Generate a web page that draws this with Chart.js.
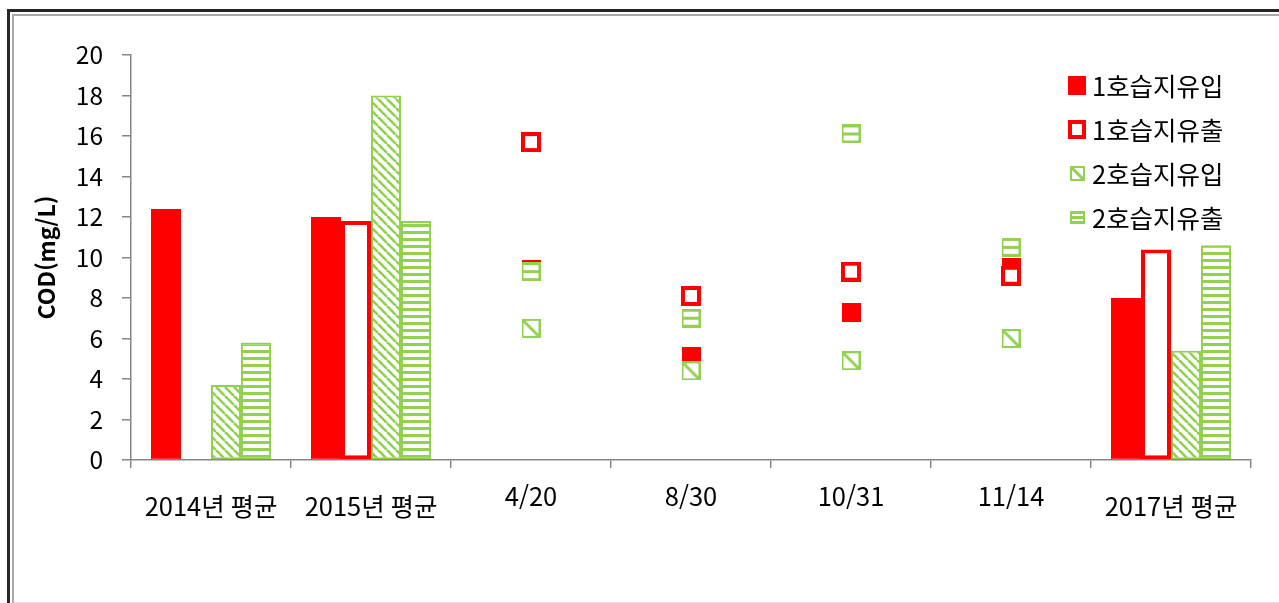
<!DOCTYPE html>
<html lang="ko">
<head>
<meta charset="utf-8">
<title>COD(mg/L)</title>
<script src="https://cdn.jsdelivr.net/npm/chart.js@4/dist/chart.umd.min.js"></script>
<style>
  html, body { margin: 0; padding: 0; background: #fff; }
  body { width: 1279px; height: 603px; position: relative; overflow: hidden; }
  .frame-outer { position: absolute; left: 7px; top: 9px; width: 1400px; height: 700px;
    border-left: 3px solid #262626; border-top: 3px solid #262626; }
  .frame-inner { position: absolute; left: 12px; top: 14px; width: 1400px; height: 586px;
    border-left: 2px solid #a8a8a8; border-top: 2px solid #a8a8a8; border-bottom: 2px solid #dcdcdc; }
  #chart { position: absolute; left: 0; top: 0; }
</style>
</head>
<body>
<div class="frame-outer"></div>
<div class="frame-inner"></div>
<canvas id="chart" width="1279" height="603"></canvas>
<script>
// Categories along the x axis: yearly averages and individual sampling dates
const categories = ['2014년 평균', '2015년 평균', '4/20', '8/30', '10/31', '11/14', '2017년 평균'];
const seriesNames = ['1호습지유입', '1호습지유출', '2호습지유입', '2호습지유출'];

// Yearly averages (drawn as bars)
const inflow1Avg  = [12.4, 12.0, null, null, null, null, 8.0];
const outflow1Avg = [null, 11.8, null, null, null, null, 10.4];
const inflow2Avg  = [3.7, 18.0, null, null, null, null, 5.4];
const outflow2Avg = [5.8, 11.8, null, null, null, null, 10.6];

// Single sampling dates (drawn as markers)
const inflow1Pts  = [null, null, 9.4, 5.1, 7.3, 9.5, null];
const outflow1Pts = [null, null, 15.7, 8.1, 9.3, 9.1, null];
const inflow2Pts  = [null, null, 6.5, 4.4, 4.9, 6.0, null];
const outflow2Pts = [null, null, 9.3, 7.0, 16.1, 10.5, null];

const yTicks = { min: 0, max: 20, step: 2 };

const RED = '#ff0000';
const GREEN = '#92d050';
const FONT = "'Noto Sans CJK KR', 'Noto Sans', sans-serif";

function makeCanvas(w, h, draw) {
  const c = document.createElement('canvas');
  c.width = w; c.height = h;
  draw(c.getContext('2d'), w, h);
  return c;
}

// Fill patterns for the second wetland
const diagTile = makeCanvas(9, 9, (g, w, h) => {
  g.fillStyle = '#fff'; g.fillRect(0, 0, w, h);
  g.strokeStyle = GREEN; g.lineWidth = 2.6;
  for (let k = -1; k <= 1; k++) {
    g.beginPath(); g.moveTo(k * w, 0); g.lineTo(k * w + w, h); g.stroke();
  }
});
const horizTile = makeCanvas(8, 7, (g, w, h) => {
  g.fillStyle = '#fff'; g.fillRect(0, 0, w, h);
  g.fillStyle = GREEN; g.fillRect(0, 0, w, 3);
});
const tmp = document.createElement('canvas').getContext('2d');
const diagPattern = tmp.createPattern(diagTile, 'repeat');
const horizPattern = tmp.createPattern(horizTile, 'repeat');

// Marker images
function filledSquare(w, h) {
  return makeCanvas(w, h, (g) => { g.fillStyle = RED; g.fillRect(0, 0, w, h); });
}
function openSquare(w, h, b) {
  return makeCanvas(w, h, (g) => {
    g.fillStyle = RED; g.fillRect(0, 0, w, h);
    g.fillStyle = '#fff'; g.fillRect(b, b, w - 2 * b, h - 2 * b);
  });
}
function diagSquare(s) {
  return makeCanvas(s, s, (g) => {
    g.fillStyle = '#fff'; g.fillRect(0, 0, s, s);
    g.strokeStyle = GREEN; g.lineWidth = 2;
    g.strokeRect(1, 1, s - 2, s - 2);
    g.lineWidth = 3;
    g.beginPath(); g.moveTo(1, 1); g.lineTo(s - 1, s - 1); g.stroke();
  });
}
function stripeSquare(w, h) {
  return makeCanvas(w, h, (g) => {
    g.fillStyle = '#fff'; g.fillRect(0, 0, w, h);
    g.fillStyle = GREEN;
    g.fillRect(0, 0, w, 3);
    g.fillRect(0, Math.round(h / 2) - 2, w, 3);
    g.fillRect(0, h - 3, w, 3);
    g.fillRect(0, 0, 2, h);
    g.fillRect(w - 2, 0, 2, h);
  });
}

const pointMarkers = [filledSquare(19, 19), openSquare(20, 20, 4), diagSquare(19), stripeSquare(19, 19)];
const legendMarkers = [filledSquare(18, 19), openSquare(18, 19, 4), diagSquare(15), stripeSquare(15, 13)];

const barSeries = [
  { data: inflow1Avg,  backgroundColor: RED,          borderColor: RED,   borderWidth: 1 },
  { data: outflow1Avg, backgroundColor: '#fff',       borderColor: RED,   borderWidth: 4 },
  { data: inflow2Avg,  backgroundColor: diagPattern,  borderColor: GREEN, borderWidth: 2 },
  { data: outflow2Avg, backgroundColor: horizPattern, borderColor: GREEN, borderWidth: 2 }
];
const pointSeries = [inflow1Pts, outflow1Pts, inflow2Pts, outflow2Pts];

const datasets = [];
barSeries.forEach((s, i) => {
  datasets.push(Object.assign({
    type: 'bar',
    label: seriesNames[i],
    borderSkipped: false,
    categoryPercentage: 0.75,
    barPercentage: 1.0
  }, s));
});
pointSeries.forEach((d, i) => {
  datasets.push({
    type: 'line',
    label: seriesNames[i],
    data: d,
    showLine: false,
    pointStyle: pointMarkers[i],
    pointRadius: 10,
    pointHoverRadius: 10,
    order: 4 - i,          // later series sit on top
    clip: false
  });
});

// Legend drawn inside the upper-right of the plot
const wetlandLegend = {
  id: 'wetlandLegend',
  afterDraw(chart) {
    const g = chart.ctx;
    g.save();
    g.font = '25.5px ' + FONT;
    g.fillStyle = '#000';
    g.textBaseline = 'middle';
    g.textAlign = 'left';
    seriesNames.forEach((name, i) => {
      const cy = 85 + i * 44;
      const m = legendMarkers[i];
      g.drawImage(m, Math.round(1077 - m.width / 2), Math.round(cy - m.height / 2));
      g.fillText(name, 1092, cy + 1);
    });
    g.restore();
  }
};

const isAverage = (idx) => /평균/.test(categories[idx]);
const axisGray = '#868686';

new Chart(document.getElementById('chart'), {
  type: 'bar',
  data: { labels: categories, datasets },
  options: {
    responsive: false,
    animation: false,
    layout: { padding: { left: 0, top: 55, right: 28, bottom: 0 } },
    plugins: { legend: { display: false }, tooltip: { enabled: false } },
    scales: {
      x: {
        offset: true,
        grid: { offset: true, drawOnChartArea: false, drawTicks: true, tickLength: 8, color: axisGray, lineWidth: 1.5 },
        border: { color: axisGray, width: 1.5 },
        ticks: {
          autoSkip: false,
          maxRotation: 0,
          padding: 14,
          color: '#000',
          font: (c) => ({ family: FONT, size: 25.5, lineHeight: isAverage(c.index) ? 1.9 : 1.15 })
        },
        afterFit: (s) => { s.height = 143; }
      },
      y: {
        min: yTicks.min,
        max: yTicks.max,
        grid: { drawOnChartArea: false, drawTicks: true, tickLength: 9, color: axisGray, lineWidth: 1.5 },
        border: { color: axisGray, width: 1.5 },
        ticks: { stepSize: yTicks.step, padding: 19, color: '#000', font: { family: FONT, size: 24.5 } },
        title: {
          display: true,
          text: 'COD(mg/L)',
          color: '#000',
          font: { family: FONT, size: 23, weight: 'bold' },
          padding: { top: 32, bottom: 0 }
        },
        afterFit: (s) => { s.width = 131; }
      }
    }
  },
  plugins: [wetlandLegend]
});
</script>
</body>
</html>
